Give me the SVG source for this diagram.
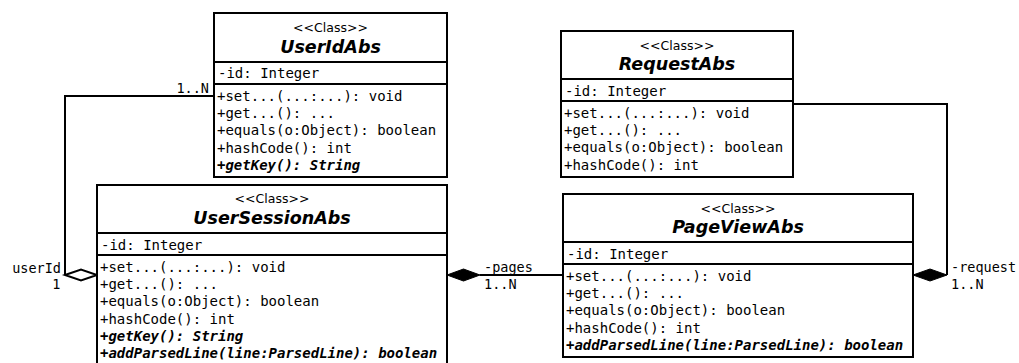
<svg xmlns="http://www.w3.org/2000/svg" width="1019" height="363" viewBox="0 0 1019 363">
<style>
.box{fill:#fff;stroke:#000;stroke-width:2}
.sep{stroke:#000;stroke-width:2}
.st{font-family:"DejaVu Sans",sans-serif;font-size:12.5px;text-anchor:middle;fill:#000}
.nm{font-family:"DejaVu Sans",sans-serif;font-size:17.5px;font-weight:bold;font-style:italic;text-anchor:middle;fill:#000}
.m{font-family:"DejaVu Sans Mono",monospace;font-size:14px;fill:#000}
.ab{font-weight:bold;font-style:italic}
.lb{font-family:"DejaVu Sans Mono",monospace;font-size:13.5px;fill:#000}
.r{text-anchor:end}
.ln{fill:none;stroke:#000;stroke-width:2}
.fd{fill:#000;stroke:#000;stroke-width:1}
.hd{fill:#fff;stroke:#000;stroke-width:2}
</style>
<rect width="1019" height="363" fill="#fff"/>
<g id="connectors">
<polyline class="ln" points="214,96 65,96 65,275"/>
<polygon class="hd" points="65,275 81,269.5 97,275 81,280.5"/>
<text class="lb r" x="209" y="92.5">1..N</text>
<text class="lb r" x="61" y="272.5">userId</text>
<text class="lb r" x="60.5" y="289">1</text>
<line class="ln" x1="563" y1="275" x2="480" y2="275"/>
<polygon class="fd" points="447,275 463.5,269 480,275 463.5,281"/>
<text class="lb" x="484" y="271.5">-pages</text>
<text class="lb" x="484" y="288.5">1..N</text>
<polyline class="ln" points="793,104 947,104 947,275"/>
<polygon class="fd" points="947,275 930,269 913,275 930,281"/>
<text class="lb" x="951" y="272">-request</text>
<text class="lb" x="951" y="288.5">1..N</text>
</g>
<g id="UserIdAbs">
<rect class="box" x="214" y="13" width="233" height="164"/>
<line class="sep" x1="214" y1="62" x2="447" y2="62"/>
<line class="sep" x1="214" y1="84" x2="447" y2="84"/>
<text class="st" x="330.5" y="32">&lt;&lt;Class&gt;&gt;</text>
<text class="nm" x="330.5" y="52.5">UserIdAbs</text>
<text class="m" x="218" y="78">-id: Integer</text>
<text class="m" x="217" y="100.7">+set...(...:...): void</text>
<text class="m" x="217" y="118">+get...(): ...</text>
<text class="m" x="217" y="135.3">+equals(o:Object): boolean</text>
<text class="m" x="217" y="152.7">+hashCode(): int</text>
<text class="m ab" x="217" y="170">+getKey(): String</text>
</g>
<g id="UserSessionAbs">
<rect class="box" x="97" y="185" width="350" height="185"/>
<line class="sep" x1="97" y1="233" x2="447" y2="233"/>
<line class="sep" x1="97" y1="255" x2="447" y2="255"/>
<text class="st" x="272" y="203">&lt;&lt;Class&gt;&gt;</text>
<text class="nm" x="272" y="223.5">UserSessionAbs</text>
<text class="m" x="101" y="249.5">-id: Integer</text>
<text class="m" x="100" y="271.7">+set...(...:...): void</text>
<text class="m" x="100" y="289">+get...(): ...</text>
<text class="m" x="100" y="306.3">+equals(o:Object): boolean</text>
<text class="m" x="100" y="323.7">+hashCode(): int</text>
<text class="m ab" x="100" y="341">+getKey(): String</text>
<text class="m ab" x="100" y="358.3">+addParsedLine(line:ParsedLine): boolean</text>
</g>
<g id="RequestAbs">
<rect class="box" x="561" y="31" width="232" height="146"/>
<line class="sep" x1="561" y1="79" x2="793" y2="79"/>
<line class="sep" x1="561" y1="101" x2="793" y2="101"/>
<text class="st" x="677" y="49.5">&lt;&lt;Class&gt;&gt;</text>
<text class="nm" x="677" y="70">RequestAbs</text>
<text class="m" x="565" y="95.5">-id: Integer</text>
<text class="m" x="564" y="117.7">+set...(...:...): void</text>
<text class="m" x="564" y="135">+get...(): ...</text>
<text class="m" x="564" y="152.3">+equals(o:Object): boolean</text>
<text class="m" x="564" y="169.7">+hashCode(): int</text>
</g>
<g id="PageViewAbs">
<rect class="box" x="563" y="194" width="350" height="163"/>
<line class="sep" x1="563" y1="242" x2="913" y2="242"/>
<line class="sep" x1="563" y1="264" x2="913" y2="264"/>
<text class="st" x="738" y="212.5">&lt;&lt;Class&gt;&gt;</text>
<text class="nm" x="738" y="233">PageViewAbs</text>
<text class="m" x="567" y="258.5">-id: Integer</text>
<text class="m" x="566" y="280.7">+set...(...:...): void</text>
<text class="m" x="566" y="298">+get...(): ...</text>
<text class="m" x="566" y="315.3">+equals(o:Object): boolean</text>
<text class="m" x="566" y="332.7">+hashCode(): int</text>
<text class="m ab" x="566" y="350">+addParsedLine(line:ParsedLine): boolean</text>
</g>
</svg>
